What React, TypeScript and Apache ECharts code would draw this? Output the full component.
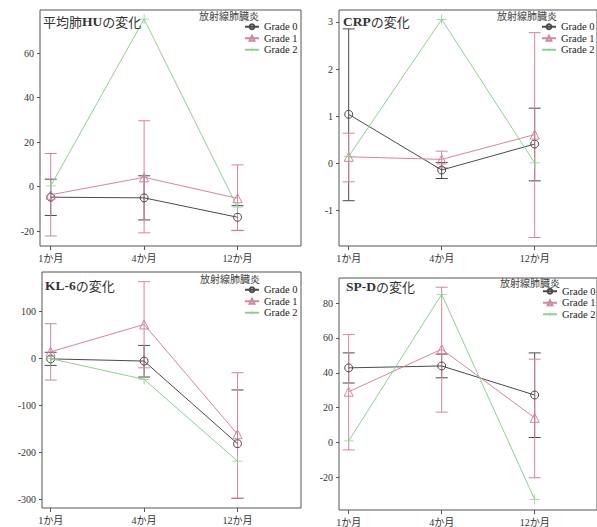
import React, { useEffect, useRef } from "react";
import * as echarts from "echarts";

const categories = ["1か月", "4か月", "12か月"];
const seriesNames = ["Grade 0", "Grade 1", "Grade 2"];
const legendHeader = "放射線肺臓炎";

// 平均肺HU
const huG0 = [-4.7, -5.0, -13.7];
const huG0Low = [-12.9, -14.9, -19.6];
const huG0High = [3.4, 4.9, -8.5];
const huG1 = [-3.6, 4.2, -5.2];
const huG1Low = [-22.1, -20.7, -19.7];
const huG1High = [14.9, 29.6, 9.8];
const huG2 = [0.4, 75.2, -9.2];
const huTicks = [-20, 0, 20, 40, 60];

// CRP
const crpG0 = [1.04, -0.14, 0.41];
const crpG0Low = [-0.79, -0.32, -0.37];
const crpG0High = [2.85, 0.02, 1.17];
const crpG1 = [0.14, 0.085, 0.61];
const crpG1Low = [-0.39, -0.09, -1.57];
const crpG1High = [0.64, 0.26, 2.77];
const crpG2 = [0.15, 3.05, 0.01];
const crpTicks = [-1, 0, 1, 2, 3];

// KL-6
const klG0 = [-1, -5.7, -181];
const klG0Low = [-14.9, -39.6, -297];
const klG0High = [13, 27.6, -67];
const klG1 = [14, 72, -161];
const klG1Low = [-46, -20, -297];
const klG1High = [73.6, 162.8, -30.4];
const klG2 = [-0.5, -44.6, -218];
const klTicks = [-300, -200, -100, 0, 100];

// SP-D
const spG0 = [42.8, 43.9, 27.2];
const spG0Low = [34.1, 37.1, 2.8];
const spG0High = [51.4, 50.7, 51.4];
const spG1 = [29.1, 53.5, 14.1];
const spG1Low = [-4.3, 17.4, -20.3];
const spG1High = [61.9, 89.1, 47.8];
const spG2 = [0.9, 85, -32.8];
const spTicks = [-20, 0, 20, 40, 60, 80];

const COLORS = ["#4a4a4a", "#d4869c", "#8fd08f"];
const SERIF = "'Liberation Serif', 'Times New Roman', 'Noto Sans CJK JP', serif";
const CJK = "'Noto Sans CJK JP', sans-serif";
const PLUS = "path://M4.6,0h0.8v10h-0.8z M0,4.6h10v0.8h-10z";
const TRI = "path://M5,0L10,9H0Z";

const panels = [
  {
    title: "{j|平均肺}{b|HU}{j|の変化}", tx: 43, ty: 14.5,
    grid: { left: 40, top: 10, width: 261, height: 236 },
    xmin: -0.115, xmax: 2.68, ymin: -26.6, ymax: 79.3, ticks: huTicks,
    g0: huG0, g0l: huG0Low, g0h: huG0High, g1: huG1, g1l: huG1Low, g1h: huG1High, g2: huG2,
    lx: 199, ly: 10.5, legL: 244, legT: 21.5,
  },
  {
    title: "{b|CRP}{j|の変化}", tx: 343, ty: 14.5,
    grid: { left: 339, top: 10, width: 259, height: 236 },
    xmin: -0.104, xmax: 2.67, ymin: -1.75, ymax: 3.25, ticks: crpTicks,
    g0: crpG0, g0l: crpG0Low, g0h: crpG0High, g1: crpG1, g1l: crpG1Low, g1h: crpG1High, g2: crpG2,
    lx: 497, ly: 10.5, legL: 541, legT: 21.5,
  },
  {
    title: "{b|KL-6}{j|の変化}", tx: 45, ty: 278.5,
    grid: { left: 42, top: 272, width: 259, height: 236 },
    xmin: -0.093, xmax: 2.68, ymin: -317.6, ymax: 183.4, ticks: klTicks,
    g0: klG0, g0l: klG0Low, g0h: klG0High, g1: klG1, g1l: klG1Low, g1h: klG1High, g2: klG2,
    lx: 200, ly: 273.5, legL: 244, legT: 284.5,
  },
  {
    title: "{b|SP-D}{j|の変化}", tx: 346, ty: 280,
    grid: { left: 339, top: 278, width: 259, height: 236 },
    xmin: -0.104, xmax: 2.67, ymin: -38.8, ymax: 94.4, ticks: spTicks,
    g0: spG0, g0l: spG0Low, g0h: spG0High, g1: spG1, g1l: spG1Low, g1h: spG1High, g2: spG2,
    lx: 500, ly: 277, legL: 542, legT: 286,
  },
];

function errorSeries(gi: number, name: string, lows: number[], highs: number[], color: string) {
  return {
    type: "custom",
    name: name + " err",
    xAxisIndex: gi,
    yAxisIndex: gi,
    silent: true,
    z: 1,
    encode: { x: 0, y: [1, 2] },
    data: lows.map((l, i) => [i, l, highs[i]]),
    renderItem: (params: any, api: any) => {
      const x = api.value(0);
      const p1 = api.coord([x, api.value(1)]);
      const p2 = api.coord([x, api.value(2)]);
      const w = 6;
      const st = { stroke: color, lineWidth: 1, fill: "none" };
      return {
        type: "group",
        children: [
          { type: "line", shape: { x1: p1[0], y1: p1[1], x2: p2[0], y2: p2[1] }, style: st },
          { type: "line", shape: { x1: p1[0] - w, y1: p1[1], x2: p1[0] + w, y2: p1[1] }, style: st },
          { type: "line", shape: { x1: p2[0] - w, y1: p2[1], x2: p2[0] + w, y2: p2[1] }, style: st },
        ],
      };
    },
  };
}

function lineSeries(gi: number, idx: number, vals: number[]) {
  const symbols = ["circle", TRI, PLUS];
  const sizes = [8, 9, 10];
  const itemStyles = [
    { color: "rgba(255,255,255,0)", borderColor: COLORS[0], borderWidth: 1 },
    { color: "rgba(255,255,255,0)", borderColor: COLORS[1], borderWidth: 1 },
    { color: COLORS[2], borderWidth: 0 },
  ];
  return {
    type: "line",
    name: seriesNames[idx],
    xAxisIndex: gi,
    yAxisIndex: gi,
    z: 2 + idx,
    data: vals.map((v, i) => [i, v]),
    symbol: symbols[idx],
    symbolSize: sizes[idx],
    showAllSymbol: true,
    lineStyle: { color: COLORS[idx], width: 1 },
    itemStyle: itemStyles[idx],
  };
}

export default function App() {
  const ref = useRef<HTMLDivElement>(null);
  useEffect(() => {
    if (!ref.current) return;
    const chart = echarts.init(ref.current, undefined, { renderer: "svg" });
    const option: any = {
      animation: false,
      backgroundColor: "#ffffff",
      title: [] as any[],
      legend: [] as any[],
      grid: [] as any[],
      xAxis: [] as any[],
      yAxis: [] as any[],
      series: [] as any[],
    };
    panels.forEach((p, gi) => {
      option.title.push({
        text: p.title,
        left: p.tx,
        top: p.ty,
        padding: 0,
        textStyle: {
          fontWeight: "normal",
          rich: {
            j: { fontFamily: CJK, fontSize: 13, fontWeight: "normal", color: "#333" },
            b: { fontFamily: SERIF, fontWeight: "bold", fontSize: 13.5, color: "#333" },
          },
        },
      });
      option.title.push({
        text: legendHeader,
        left: p.lx,
        top: p.ly,
        padding: 0,
        textStyle: { fontFamily: CJK, fontSize: 10, fontWeight: "normal", color: "#444" },
      });
      option.legend.push({
        orient: "vertical",
        left: p.legL,
        top: p.legT,
        padding: 0,
        itemWidth: 14,
        itemHeight: 6,
        itemGap: 1,
        data: seriesNames,
        textStyle: { fontFamily: SERIF, fontSize: 10.5, color: "#222", lineHeight: 10 },
      });
      option.grid.push({
        ...p.grid,
        show: true,
        borderColor: "#555",
        borderWidth: 1,
        backgroundColor: "transparent",
        containLabel: false,
      });
      option.xAxis.push({
        type: "value",
        gridIndex: gi,
        position: "bottom",
        min: p.xmin,
        max: p.xmax,
        splitLine: { show: false },
        axisLine: { show: false, onZero: false },
        axisTick: { show: true, length: 4, customValues: [0, 1, 2], lineStyle: { color: "#555" } },
        axisLabel: {
          customValues: [0, 1, 2],
          formatter: (v: number) => categories[Math.round(v)] ?? "",
          fontFamily: SERIF,
          fontSize: 10,
          color: "#333",
          margin: 7,
        },
      });
      option.yAxis.push({
        type: "value",
        gridIndex: gi,
        position: "left",
        min: p.ymin,
        max: p.ymax,
        splitLine: { show: false },
        axisLine: { show: false, onZero: false },
        axisTick: { show: true, length: 3, customValues: p.ticks, lineStyle: { color: "#555" } },
        axisLabel: {
          customValues: p.ticks,
          fontFamily: SERIF,
          fontSize: 10,
          color: "#333",
          margin: 6,
        },
      });
      option.series.push(errorSeries(gi, seriesNames[0], p.g0l, p.g0h, COLORS[0]));
      option.series.push(errorSeries(gi, seriesNames[1], p.g1l, p.g1h, COLORS[1]));
      option.series.push(lineSeries(gi, 0, p.g0));
      option.series.push(lineSeries(gi, 1, p.g1));
      option.series.push(lineSeries(gi, 2, p.g2));
    });
    chart.setOption(option);
    return () => chart.dispose();
  }, []);
  return (
    <div
      ref={ref}
      style={{ position: "absolute", left: 0, top: 0, width: 597, height: 527, background: "#fff" }}
    />
  );
}
